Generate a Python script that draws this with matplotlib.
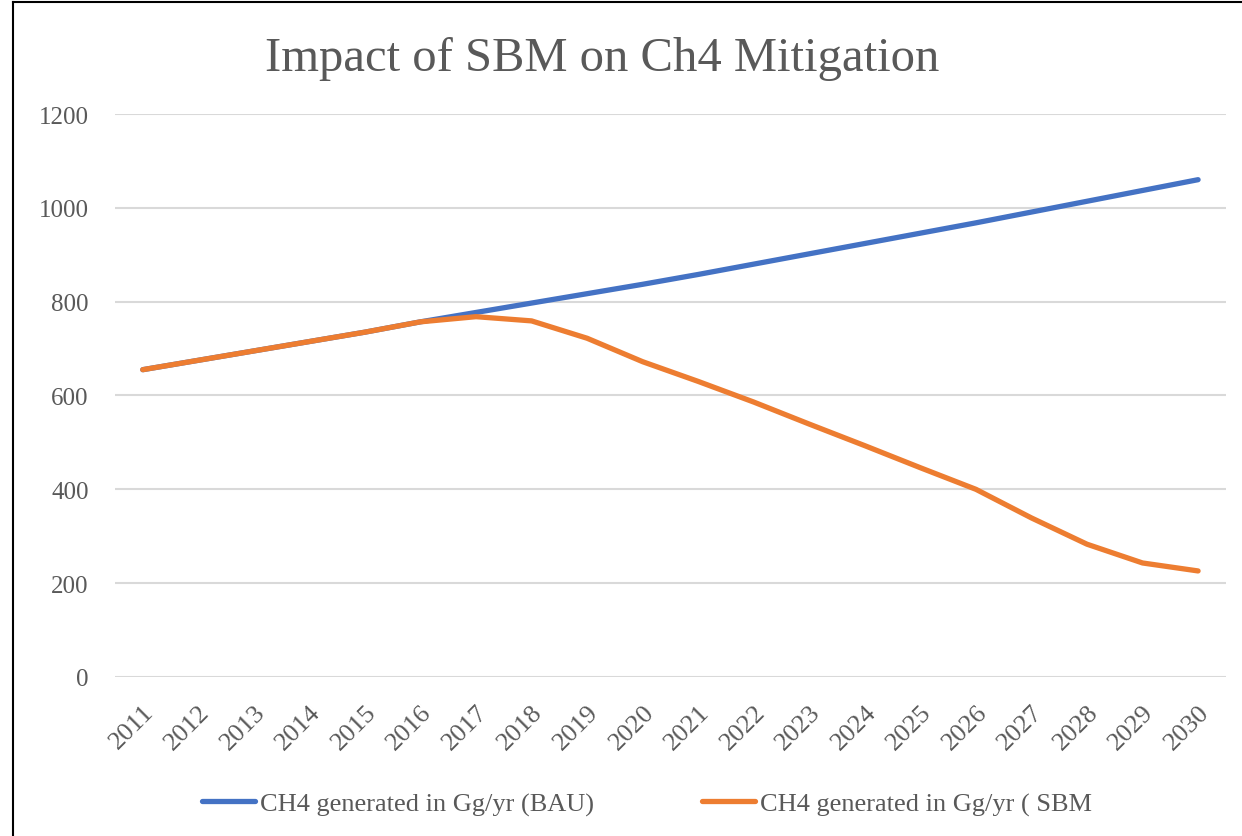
import numpy as np
import matplotlib
matplotlib.use("Agg")
import matplotlib.pyplot as plt
from matplotlib.lines import Line2D

years = [str(y) for y in range(2011, 2031)]
bau = [655, 675, 695, 715, 735, 757, 777, 797, 817, 837,
       858, 880, 902, 924, 946, 968, 991, 1014, 1037, 1060]
sbm = [655, 675, 695, 715, 735, 757, 768, 759, 722, 672,
       630, 586, 539, 493, 446, 400, 339, 283, 243, 226]
yticks = [0, 200, 400, 600, 800, 1000, 1200]

plt.rcParams['font.family'] = ['Liberation Serif', 'DejaVu Serif']
grey = '#595959'

fig = plt.figure(figsize=(12.42, 8.37), dpi=100)
ax = fig.add_axes([0.0926, 0.19, 0.8944, 0.6726])

x = np.arange(len(years))
ax.plot(x, bau, color='#4472C4', lw=3.8, solid_capstyle='round',
        label='CH4 generated in Gg/yr (BAU)')
ax.plot(x, sbm, color='#ED7D31', lw=3.8, solid_capstyle='round',
        label='CH4 generated in Gg/yr ( SBM')

ax.set_xlim(-0.5, len(years) - 0.5)
ax.set_ylim(0, 1200)
ax.set_yticks(yticks)
ax.set_xticks(x)
ax.set_xticklabels(years, rotation=45, ha='right', rotation_mode='anchor')
ax.tick_params(axis='both', length=0, colors=grey)
ax.tick_params(axis='y', pad=19, labelsize=18)
ax.tick_params(axis='x', pad=17, labelsize=19)
ax.grid(axis='y', color='#d9d9d9', lw=1.5)
ax.set_axisbelow(True)
for s in ax.spines.values():
    s.set_visible(False)

fig.text(0.485, 0.93, 'Impact of SBM on Ch4 Mitigation', ha='center', va='center',
         fontsize=35, color=grey)

leg = fig.legend(loc='center', bbox_to_anchor=(0.521, 0.038), ncol=2, frameon=False,
                 fontsize=19, handlelength=2.0, columnspacing=4.1, handletextpad=0.2)
for t in leg.get_texts():
    t.set_color(grey)

# outer border (left and top edges)
fig.add_artist(Line2D([13/1242, 13/1242], [0, 1 - 3/837], color='black', lw=1.5))
fig.add_artist(Line2D([13/1242, 1], [1 - 3/837, 1 - 3/837], color='black', lw=1.5))

fig.savefig('out.png', dpi=100)
